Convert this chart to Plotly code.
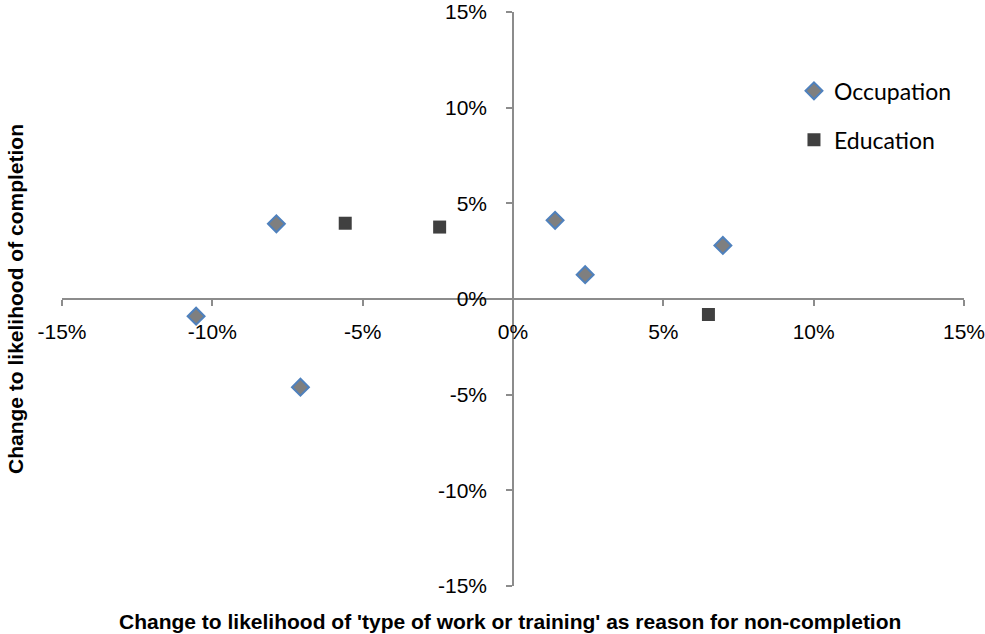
import plotly.graph_objects as go

# Data (fractions)
occ_x = [-0.1054, -0.0787, -0.0707, 0.0140, 0.0240, 0.0698]
occ_y = [-0.0090, 0.0393, -0.0461, 0.0411, 0.0127, 0.0280]
edu_x = [-0.0558, -0.0244, 0.0650]
edu_y = [0.0396, 0.0376, -0.0081]

x_range = [-0.15, 0.15]
y_range = [-0.15, 0.15]
tick_vals = [-0.15, -0.10, -0.05, 0.0, 0.05, 0.10, 0.15]
tick_text = ["-15%", "-10%", "-5%", "0%", "5%", "10%", "15%"]

axis_color = "#8c8c8c"
tick_font = dict(family="Liberation Sans, Arial, sans-serif", size=21, color="#000000")
title_font = dict(family="Liberation Sans, Arial, sans-serif", size=21, color="#000000")

fig = go.Figure()
fig.add_trace(go.Scatter(
    x=occ_x, y=occ_y, mode="markers", name="Occupation",
    legendgroup="occ",
    marker=dict(symbol="diamond", size=13, color="#7f7f7f",
                line=dict(color="#4f81bd", width=2)),
))
fig.add_trace(go.Scatter(
    x=edu_x, y=edu_y, mode="markers", name="Education",
    legendgroup="edu",
    marker=dict(symbol="square", size=13, color="#404040",
                line=dict(color="#404040", width=0)),
))

fig.update_layout(
    width=985, height=634,
    margin=dict(l=62, r=21, t=12, b=48, autoexpand=False),
    plot_bgcolor="white", paper_bgcolor="white",
    showlegend=True,
    legend=dict(
        x=0.8115, y=0.90, xanchor="left", yanchor="top",
        font=dict(family="Lato, Open Sans, sans-serif", size=23, color="#000000"),
        traceorder="grouped", tracegroupgap=16,
        bgcolor="rgba(0,0,0,0)",
    ),
    xaxis=dict(
        range=x_range, tickvals=tick_vals, ticktext=tick_text,
        showgrid=False, zeroline=False, automargin=False,
        showline=True, linecolor=axis_color, linewidth=1.5,
        ticks="outside", ticklen=6, tickcolor=axis_color, tickwidth=1.5,
        anchor="free", position=0.5, ticklabeloverflow="allow",
        tickfont=tick_font, ticklabelstandoff=8,
    ),
    yaxis=dict(
        range=y_range, tickvals=tick_vals, ticktext=tick_text,
        showgrid=False, zeroline=False, automargin=False,
        showline=True, linecolor=axis_color, linewidth=1.5,
        ticks="outside", ticklen=6, tickcolor=axis_color, tickwidth=1.5,
        anchor="free", position=0.5, ticklabeloverflow="allow",
        tickfont=tick_font, ticklabelstandoff=15,
    ),
    annotations=[
        dict(text="<b>Change to likelihood of 'type of work or training' as reason for non-completion</b>",
             xref="paper", yref="paper", x=0.497, y=0, yshift=-35,
             xanchor="center", yanchor="middle", showarrow=False,
             font=title_font),
        dict(text="<b>Change to likelihood of completion</b>",
             xref="paper", yref="paper", x=0, y=0.5, xshift=-47,
             xanchor="center", yanchor="middle", showarrow=False, textangle=-90,
             font=title_font),
    ],
)

# Remove the default 8px page margin so the figure fills the window exactly.
fig.write_html("out.html", config={"displayModeBar": False},
               post_script="document.body.style.margin='0';")
